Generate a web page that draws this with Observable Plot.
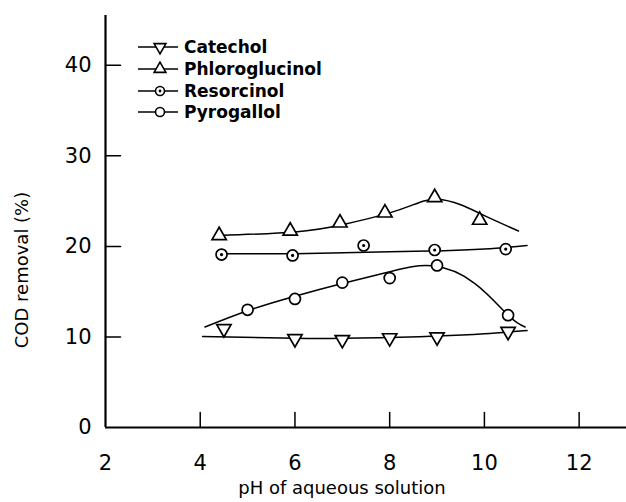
<!DOCTYPE html>
<html><head><meta charset="utf-8">
<script src="https://cdn.jsdelivr.net/npm/d3@7"></script>
<script src="https://cdn.jsdelivr.net/npm/@observablehq/plot@0.6"></script>
<style>body{margin:0;background:#fff;}</style>
</head><body><div id="chart"></div>
<script>
// ---- data ----
const seriesNames = ["Catechol", "Phloroglucinol", "Resorcinol", "Pyrogallol"];

const catecholPH  = [4.5, 6, 7, 8, 9, 10.5];
const catecholVal = [10.9, 9.8, 9.7, 9.9, 10.0, 10.6];
const phloroPH    = [4.4, 5.9, 6.95, 7.9, 8.95, 9.9];
const phloroVal   = [21.2, 21.7, 22.6, 23.7, 25.4, 22.9];
const resorPH     = [4.45, 5.95, 7.45, 8.95, 10.45];
const resorVal    = [19.1, 19.0, 20.1, 19.6, 19.7];
const pyroPH      = [5, 6, 7, 8, 9, 10.5];
const pyroVal     = [13.0, 14.2, 16.0, 16.5, 17.9, 12.4];

// hand-drawn fitted curves
const catecholFitPH  = [4.05, 6, 7, 8, 9, 10, 10.9];
const catecholFitVal = [10.05, 9.85, 9.85, 9.95, 10.1, 10.35, 10.7];
const phloroFitPH    = [4.4, 6, 7, 8, 8.6, 9, 9.5, 10, 10.72];
const phloroFitVal   = [21.2, 21.6, 22.4, 23.7, 24.8, 25.2, 24.6, 23.4, 21.7];
const resorFitPH     = [4.45, 6, 8, 9, 10, 10.9];
const resorFitVal    = [19.2, 19.2, 19.4, 19.5, 19.7, 20.1];
const pyroFitPH      = [4.1, 5, 6, 7, 8, 8.9, 9.8, 10.5, 10.86];
const pyroFitVal     = [11.1, 12.9, 14.5, 15.9, 17.2, 17.85, 15.9, 12.4, 11.1];

const xTicks = [2, 4, 6, 8, 10, 12];
const xTickMarks = [4, 6, 8, 10, 12];
const yTicks = [0, 10, 20, 30, 40];
const yTickMarks = [10, 20, 30, 40];

const xTitle = "pH of aqueous solution";
const yTitle = "COD removal (%)";

// ---- build tables ----
const zip = (xs, ys) => xs.map((x, i) => ({x, y: ys[i]}));
const catPts = zip(catecholPH, catecholVal), phlPts = zip(phloroPH, phloroVal),
      resPts = zip(resorPH, resorVal), pyrPts = zip(pyroPH, pyroVal);
const fits = [zip(catecholFitPH, catecholFitVal), zip(phloroFitPH, phloroFitVal),
              zip(resorFitPH, resorFitVal), zip(pyroFitPH, pyroFitVal)];

const FONT = "'DejaVu Sans', sans-serif";
const mk = {stroke: "black", strokeWidth: 1.7, fill: "white"};
const tickShape = {draw(context, l) { context.moveTo(0, 0); context.lineTo(0, -l); }};
const xMin = 2;

const plot = Plot.plot({
  width: 626, height: 502,
  marginLeft: 105, marginRight: 0, marginTop: 15, marginBottom: 75,
  x: {domain: [xMin, 13]},
  y: {domain: [0, 45.5]},
  style: {fontFamily: FONT, fontSize: "21px", background: "white", color: "black"},
  marks: [
    Plot.axisX({ticks: xTicks, tickSize: 0, tickPadding: 28, label: null, fontSize: 21}),
    Plot.axisY({ticks: yTicks, tickSize: 0, tickPadding: 14, label: null, fontSize: 21}),
    Plot.vector(xTickMarks, {x: d => d, y: 0, length: 15, rotate: 0, anchor: "start",
      shape: tickShape, stroke: "black", strokeWidth: 1.5}),
    Plot.vector(yTickMarks, {x: xMin, y: d => d, length: 15, rotate: 90, anchor: "start",
      shape: tickShape, stroke: "black", strokeWidth: 1.5}),
    Plot.ruleY([0], {strokeWidth: 2.2}),
    Plot.ruleX([xMin], {strokeWidth: 2.2}),
    ...fits.map(f => Plot.line(f, {x: "x", y: "y", curve: "natural", stroke: "black", strokeWidth: 1.5})),
    Plot.dot(catPts, {x: "x", y: "y", symbol: "triangle", r: 5.3, rotate: 180, ...mk}),
    Plot.dot(phlPts, {x: "x", y: "y", symbol: "triangle", r: 5.3, ...mk}),
    Plot.dot(resPts, {x: "x", y: "y", symbol: "circle", r: 5.5, ...mk}),
    Plot.dot(resPts, {x: "x", y: "y", symbol: "circle", r: 1.6, fill: "black"}),
    Plot.dot(pyrPts, {x: "x", y: "y", symbol: "circle", r: 5.5, ...mk})
  ]
});

const svg = d3.select(plot);
// axis titles
svg.append("text").attr("x", 342).attr("y", 494).attr("text-anchor", "middle")
  .attr("font-family", FONT).attr("font-size", 18).attr("fill", "black").text(xTitle);
svg.append("text").attr("transform", "translate(28,270) rotate(-90)").attr("text-anchor", "middle")
  .attr("font-family", FONT).attr("font-size", 18).attr("fill", "black").text(yTitle);

// legend
const legendY = [47, 69, 91, 112];
const symbols = [
  {type: d3.symbolTriangle, rot: 180, dot: false},
  {type: d3.symbolTriangle, rot: 0, dot: false},
  {type: d3.symbolCircle, rot: 0, dot: true},
  {type: d3.symbolCircle, rot: 0, dot: false}
];
seriesNames.forEach((name, i) => {
  const g = svg.append("g").attr("transform", `translate(0,${legendY[i]})`);
  g.append("line").attr("x1", 138).attr("x2", 178).attr("y1", 0).attr("y2", 0)
    .attr("stroke", "black").attr("stroke-width", 1.5);
  const s = symbols[i];
  const area = s.type === d3.symbolCircle ? Math.PI * 4.5 * 4.5 : 60;
  g.append("path").attr("d", d3.symbol(s.type, area)())
    .attr("transform", `translate(160,0) rotate(${s.rot})`)
    .attr("fill", "white").attr("stroke", "black").attr("stroke-width", 1.6);
  if (s.dot) g.append("circle").attr("cx", 160).attr("cy", 0).attr("r", 1.4).attr("fill", "black");
  g.append("text").attr("x", 184).attr("y", 0).attr("dy", "0.35em").attr("text-anchor", "start")
    .attr("font-family", FONT).attr("font-size", 17).attr("font-weight", "bold")
    .attr("fill", "black").text(name);
});

document.getElementById("chart").appendChild(plot);
</script>
</body></html>
